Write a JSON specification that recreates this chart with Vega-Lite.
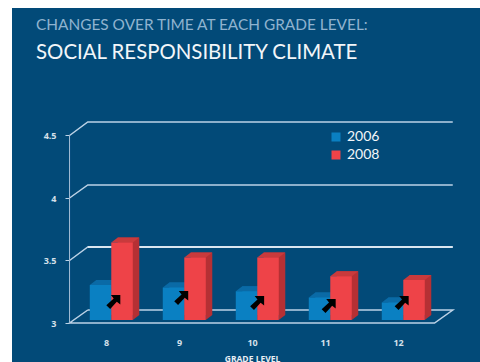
{
  "$schema": "https://vega.github.io/schema/vega-lite/v6.json",
  "width": 468,
  "height": 354,
  "autosize": "none",
  "padding": {"left": 12, "top": 8, "right": 0, "bottom": 0},
  "background": "#ffffff",
  "view": {"fill": "#024a78", "stroke": null},
  "title": {
    "text": "CHANGES OVER TIME AT EACH GRADE LEVEL:",
    "subtitle": "SOCIAL RESPONSIBILITY CLIMATE",
    "anchor": "start",
    "frame": "group",
    "dx": 24,
    "dy": 59,
    "font": "Lato",
    "fontSize": 15.4,
    "fontWeight": "normal",
    "color": "#8fb3cf",
    "subtitleFont": "Lato",
    "subtitleFontSize": 20.4,
    "subtitleColor": "#f2f6f9",
    "subtitlePadding": 9
  },
  "datasets": {
    "scores": [
      {"grade": 8, "year": "2006", "score": 3.28},
      {"grade": 8, "year": "2008", "score": 3.62},
      {"grade": 9, "year": "2006", "score": 3.26},
      {"grade": 9, "year": "2008", "score": 3.5},
      {"grade": 10, "year": "2006", "score": 3.23},
      {"grade": 10, "year": "2008", "score": 3.5},
      {"grade": 11, "year": "2006", "score": 3.18},
      {"grade": 11, "year": "2008", "score": 3.35},
      {"grade": 12, "year": "2006", "score": 3.14},
      {"grade": 12, "year": "2008", "score": 3.32}
    ],
    "grid": [
      {"line": "4.5", "step": 1, "grade": 7.5, "level": 4.5},
      {"line": "4.5", "step": 2, "grade": 7.75, "level": 4.608},
      {"line": "4.5", "step": 3, "grade": 12.75, "level": 4.608},
      {"line": "4", "step": 1, "grade": 7.5, "level": 4.0},
      {"line": "4", "step": 2, "grade": 7.75, "level": 4.104},
      {"line": "4", "step": 3, "grade": 12.75, "level": 4.104},
      {"line": "3.5", "step": 1, "grade": 7.5, "level": 3.5},
      {"line": "3.5", "step": 2, "grade": 7.75, "level": 3.608},
      {"line": "3.5", "step": 3, "grade": 12.75, "level": 3.608},
      {"line": "3", "step": 1, "grade": 7.75, "level": 3.104},
      {"line": "3", "step": 2, "grade": 7.5, "level": 3.0},
      {"line": "3", "step": 3, "grade": 12.5, "level": 3.0},
      {"line": "3", "step": 4, "grade": 12.75, "level": 3.104},
      {"line": "3", "step": 5, "grade": 7.75, "level": 3.104}
    ],
    "arrows": [
      {"grade": 8.1, "level": 3.168},
      {"grade": 9.03, "level": 3.2},
      {"grade": 10.07, "level": 3.16},
      {"grade": 11.05, "level": 3.136},
      {"grade": 12.05, "level": 3.16}
    ]
  },
  "layer": [
    {
      "data": {"name": "grid"},
      "mark": {"type": "line", "stroke": "#bcd2e6", "strokeWidth": 1.5},
      "encoding": {
        "x": {
          "field": "grade",
          "type": "quantitative",
          "scale": {"domain": [6.712, 13.123], "nice": false, "zero": false, "padding": 0},
          "axis": {
            "values": [8, 9, 10, 11, 12],
            "format": "d",
            "orient": "bottom",
            "offset": -24,
            "grid": false,
            "domain": false,
            "ticks": false,
            "labelFont": "Open Sans",
            "labelFontSize": 9,
            "labelFontWeight": "bold",
            "labelColor": "#d5e0ea",
            "labelPadding": 0,
            "title": "GRADE LEVEL",
            "titleFont": "Open Sans",
            "titleFontSize": 8.5,
            "titleFontWeight": "bold",
            "titleColor": "#e8eef4",
            "titleX": 240,
            "titleY": 23,
            "titleBaseline": "alphabetic"
          }
        },
        "y": {
          "field": "level",
          "type": "quantitative",
          "scale": {"domain": [2.688, 5.52], "nice": false, "zero": false},
          "axis": {
            "values": [3, 3.5, 4, 4.5],
            "format": "~g",
            "offset": -57,
            "grid": false,
            "domain": false,
            "tickSize": 4,
            "tickColor": "#bcd2e6",
            "labelFont": "Open Sans",
            "labelFontSize": 9,
            "labelFontWeight": "bold",
            "labelColor": "#d5e0ea",
            "labelPadding": 9,
            "title": null
          }
        },
        "detail": {"field": "line"},
        "order": {"field": "step", "type": "quantitative"}
      }
    },
    {
      "data": {"name": "grid"},
      "transform": [{"filter": "datum.line === '3.5' && datum.step > 1"}],
      "mark": {"type": "line", "stroke": "#f4f9fd", "strokeWidth": 1.5},
      "encoding": {
        "x": {"field": "grade", "type": "quantitative"},
        "y": {"field": "level", "type": "quantitative"},
        "order": {"field": "step", "type": "quantitative"}
      }
    },
    {
      "data": {"name": "grid"},
      "transform": [{"filter": "datum.step === 1 && datum.grade === 7.5"}],
      "mark": {"type": "rule", "stroke": "#9fbad2", "strokeWidth": 1},
      "encoding": {
        "x": {"datum": 7.5},
        "y": {"datum": 3},
        "y2": {"datum": 4.5}
      }
    },
    {
      "data": {"name": "scores"},
      "transform": [{"filter": "datum.year === '2006'"}],
      "layer": [
        {
          "mark": {"type": "bar", "size": 21.5, "xOffset": 1, "yOffset": -8, "y2Offset": -8, "fill": "#0a6aa6"},
          "encoding": {
            "x": {"field": "grade", "type": "quantitative"},
            "y": {"field": "score", "type": "quantitative"},
            "y2": {"datum": 3}
          }
        },
        {
          "mark": {"type": "point", "filled": true, "size": 4, "xOffset": -16.25, "yOffset": -3, "opacity": 1, "fill": "#0a6aa6", "shape": "M0,0 L21.5,0 L28,-5 L6.5,-5 Z"},
          "encoding": {
            "x": {"field": "grade", "type": "quantitative"},
            "y": {"field": "score", "type": "quantitative"}
          }
        },
        {
          "mark": {"type": "bar", "size": 21.5, "xOffset": -5.5, "yOffset": -3, "y2Offset": -3},
          "encoding": {
            "x": {"field": "grade", "type": "quantitative"},
            "y": {"field": "score", "type": "quantitative"},
            "y2": {"datum": 3},
            "color": {
              "field": "year",
              "type": "nominal",
              "scale": {"domain": ["2006", "2008"], "range": ["#0a80c2", "#ee4348"]},
              "legend": {
                "orient": "none",
                "legendX": 317,
                "legendY": 122,
                "title": null,
                "symbolType": "square",
                "symbolSize": 81,
                "symbolStrokeWidth": 0,
                "symbolOpacity": 1,
                "labelFont": "Lato",
                "labelFontSize": 14,
                "labelColor": "#f2f6f9",
                "rowPadding": 4,
                "labelOffset": 4
              }
            }
          }
        }
      ]
    },
    {
      "data": {"name": "scores"},
      "transform": [{"filter": "datum.year === '2008'"}],
      "layer": [
        {
          "mark": {"type": "bar", "size": 21.5, "xOffset": 22.5, "yOffset": -8, "y2Offset": -8, "fill": "#b53034"},
          "encoding": {
            "x": {"field": "grade", "type": "quantitative"},
            "y": {"field": "score", "type": "quantitative"},
            "y2": {"datum": 3}
          }
        },
        {
          "mark": {"type": "point", "filled": true, "size": 4, "xOffset": 5.25, "yOffset": -3, "opacity": 1, "fill": "#b53034", "shape": "M21.5,0 L28,-5 L21.5,-5 Z"},
          "encoding": {
            "x": {"field": "grade", "type": "quantitative"},
            "y": {"datum": 3}
          }
        },
        {
          "mark": {"type": "point", "filled": true, "size": 4, "xOffset": 5.25, "yOffset": -3, "opacity": 1, "fill": "#c93a3c", "shape": "M0,0 L21.5,0 L28,-5 L6.5,-5 Z"},
          "encoding": {
            "x": {"field": "grade", "type": "quantitative"},
            "y": {"field": "score", "type": "quantitative"}
          }
        },
        {
          "mark": {"type": "bar", "size": 21.5, "xOffset": 16, "yOffset": -3, "y2Offset": -3},
          "encoding": {
            "x": {"field": "grade", "type": "quantitative"},
            "y": {"field": "score", "type": "quantitative"},
            "y2": {"datum": 3},
            "color": {"field": "year", "type": "nominal"}
          }
        }
      ]
    },
    {
      "data": {"name": "arrows"},
      "mark": {
        "type": "point",
        "filled": true,
        "size": 196,
        "opacity": 1,
        "fill": "#000000",
        "shape": "M-1,0.45 L0.05,-0.5 L-0.35,-1 L1,-1 L1,0.35 L0.5,-0.05 L-0.45,1 Z"
      },
      "encoding": {
        "x": {"field": "grade", "type": "quantitative"},
        "y": {"field": "level", "type": "quantitative"}
      }
    }
  ]
}
